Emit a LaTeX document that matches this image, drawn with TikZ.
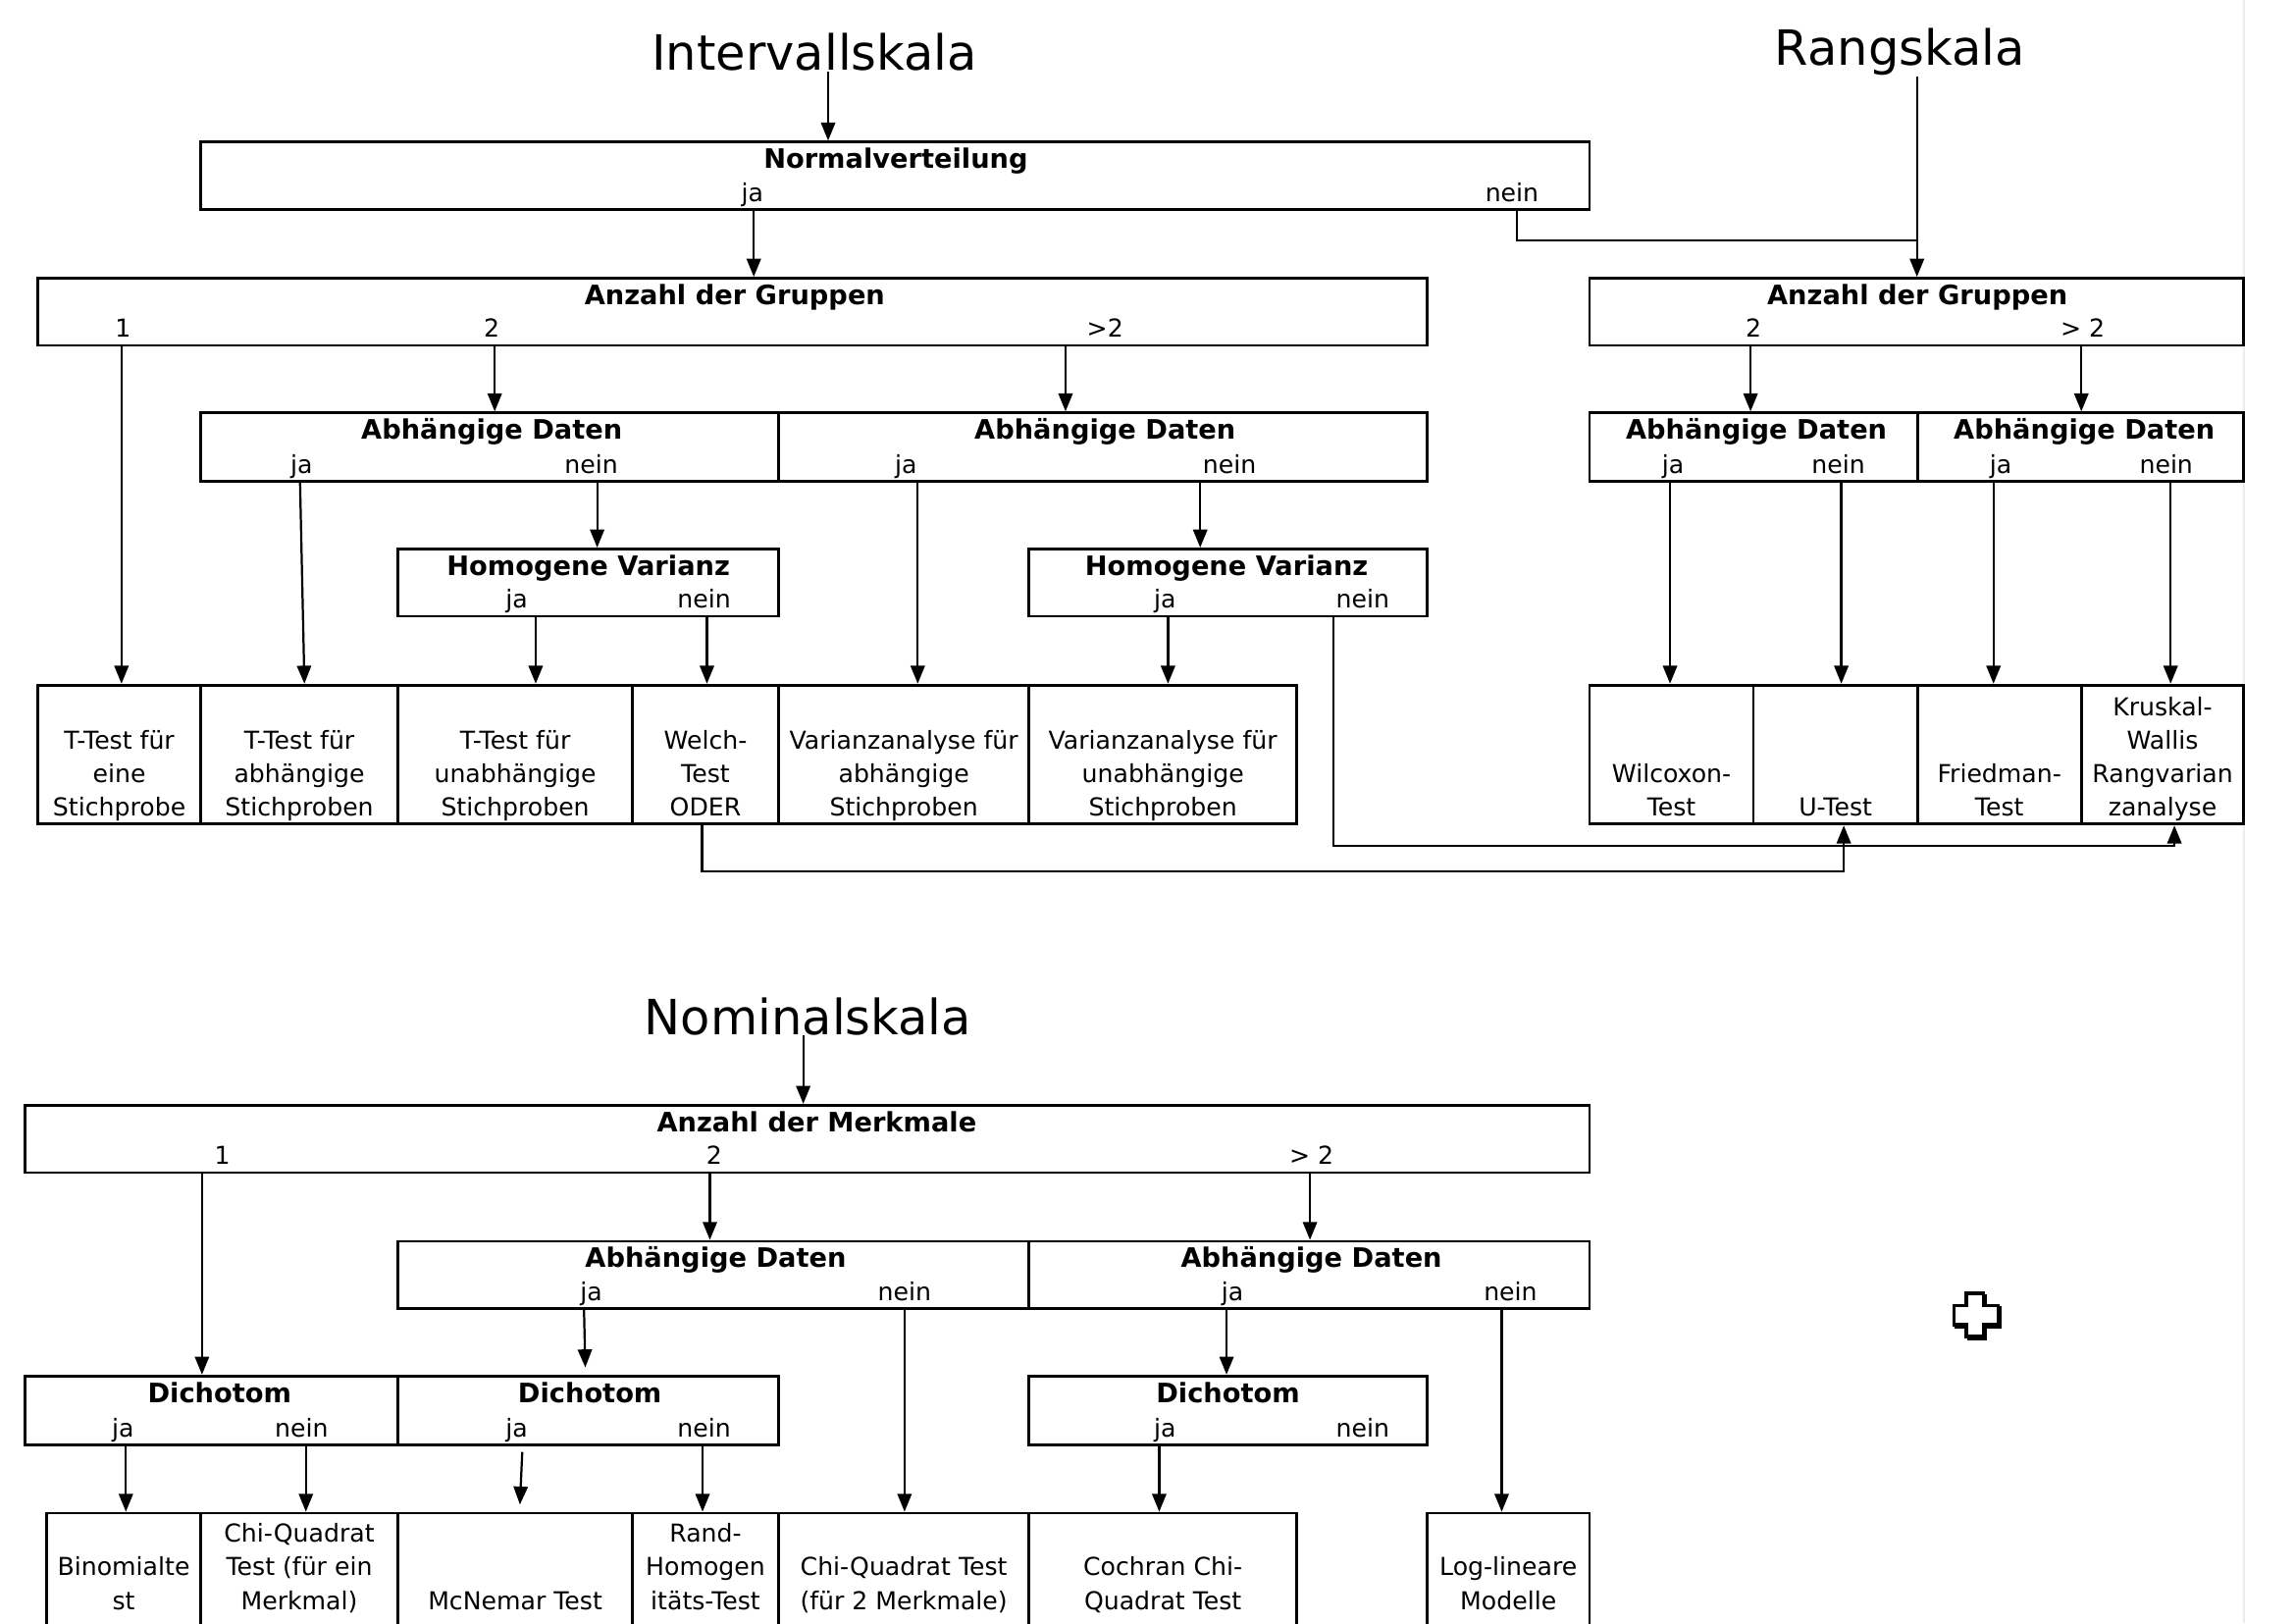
\documentclass[tikz,border=0pt]{standalone}
\usepackage{fontspec}
\setmainfont{DejaVu Sans}
\usetikzlibrary{arrows.meta,fit}
\newcommand{\stk}[1]{\begin{tabular}[b]{@{}c@{}}#1\end{tabular}}
\begin{document}
\begin{tikzpicture}[x=0.02cm,y=-0.02cm,
  box/.style={draw, line width=1.05pt, inner sep=0pt},
  ttl/.style={font=\fontsize{10.4}{12.5}\selectfont\bfseries, anchor=base, inner sep=0pt},
  lbl/.style={font=\fontsize{9.6}{13.04}\selectfont, anchor=base, inner sep=0pt},
  res/.style={font=\fontsize{9.6}{13.04}\selectfont, anchor=base, inner sep=0pt},
  head/.style={font=\fontsize{18.9}{22}\selectfont, anchor=base, inner sep=0pt},
  arr/.style={line width=0.85pt, -{Triangle[width=5.5pt,length=7pt]}},
  conn/.style={line width=0.85pt}]
\useasboundingbox (0,0) rectangle (1568,1109);
\clip (0,0) rectangle (1568,1109);
\fill[white] (0,0) rectangle (1568,1109);
\draw[gray!15, line width=1pt] (1533,0) -- (1533,1109);

% ---------- headings ----------
\node[head] (iv) at (556.5,48) {Intervallskala};
\node[head] (rs) at (1298,44.7) {Rangskala};
\node[head] (ns) at (552,706.6) {Nominalskala};

% ---------- top section boxes ----------
\node[box, fit={(137,97) (1086,143)}] (nv) {};
\node[ttl] (nvT) at (612,115) {Normalverteilung};
\node[lbl] (nvJa) at (514,137.5) {ja};
\node[lbl] (nvNein) at (1033,137.5) {nein};

\node[box, fit={(26,190) (975,236)}] (agL) {};
\node[ttl] (agLT) at (502,208) {Anzahl der Gruppen};
\node[lbl] (agL1) at (84,230.5) {1};
\node[lbl] (agL2) at (336,230.5) {2};
\node[lbl] (agL3) at (755,230.5) {>2};

\node[box, fit={(1086,190) (1533,236)}] (agR) {};
\node[ttl] (agRT) at (1310,208) {Anzahl der Gruppen};
\node[lbl] (agR2) at (1198,230.5) {2};
\node[lbl] (agR3) at (1423,230.5) {> 2};

\node[box, fit={(137,282) (532,329)}] (adA) {};
\node[ttl] (adAT) at (336,300) {Abhängige Daten};
\node[lbl] (adAJ) at (206,323.5) {ja};
\node[lbl] (adAN) at (404,323.5) {nein};
\node[box, fit={(532,282) (975,329)}] (adB) {};
\node[ttl] (adBT) at (755,300) {Abhängige Daten};
\node[lbl] (adBJ) at (619,323.5) {ja};
\node[lbl] (adBN) at (840,323.5) {nein};
\node[box, fit={(1086,282) (1310,329)}] (adC) {};
\node[ttl] (adCT) at (1200,300) {Abhängige Daten};
\node[lbl] (adCJ) at (1143,323.5) {ja};
\node[lbl] (adCN) at (1256,323.5) {nein};
\node[box, fit={(1310,282) (1533,329)}] (adD) {};
\node[ttl] (adDT) at (1424,300) {Abhängige Daten};
\node[lbl] (adDJ) at (1367,323.5) {ja};
\node[lbl] (adDN) at (1480,323.5) {nein};

\node[box, fit={(272,375) (532,421)}] (hvA) {};
\node[ttl] (hvAT) at (402,393) {Homogene Varianz};
\node[lbl] (hvAJ) at (353,415.5) {ja};
\node[lbl] (hvAN) at (481,415.5) {nein};
\node[box, fit={(703,375) (975,421)}] (hvB) {};
\node[ttl] (hvBT) at (838,393) {Homogene Varianz};
\node[lbl] (hvBJ) at (796,415.5) {ja};
\node[lbl] (hvBN) at (931,415.5) {nein};

% result boxes (top)
\node[box, fit={(26,468) (137,563)}] (r1) {};
\node[box, fit={(137,468) (272,563)}] (r2) {};
\node[box, fit={(272,468) (432,563)}] (r3) {};
\node[box, fit={(432,468) (532,563)}] (r4) {};
\node[box, fit={(532,468) (703,563)}] (r5) {};
\node[box, fit={(703,468) (886,563)}] (r6) {};
\node[box, fit={(1086,468) (1198,563)}] (s1) {};
\node[box, fit={(1198,468) (1310,563)}] (s2) {};
\node[box, fit={(1310,468) (1422,563)}] (s3) {};
\node[box, fit={(1422,468) (1533,563)}] (s4) {};
\node[res] (r1t) at (81.5,557.5) {\stk{T-Test für\\eine\\Stichprobe}};
\node[res] (r2t) at (204.5,557.5) {\stk{T-Test für\\abhängige\\Stichproben}};
\node[res] (r3t) at (352,557.5) {\stk{T-Test für\\unabhängige\\Stichproben}};
\node[res] (r4t) at (482,557.5) {\stk{Welch-\\Test\\ODER}};
\node[res] (r5t) at (617.5,557.5) {\stk{Varianzanalyse für\\abhängige\\Stichproben}};
\node[res] (r6t) at (794.5,557.5) {\stk{Varianzanalyse für\\unabhängige\\Stichproben}};
\node[res] (s1t) at (1142,557.5) {\stk{Wilcoxon-\\Test}};
\node[res] (s2t) at (1254,557.5) {U-Test};
\node[res] (s3t) at (1366,557.5) {\stk{Friedman-\\Test}};
\node[res] (s4t) at (1477.5,557.5) {\stk{Kruskal-\\Wallis\\Rangvarian\\zanalyse}};

% ---------- top section connectors ----------
\draw[arr] (565.8,0 |- iv.south) -- (565.8,0 |- nv.north);
\coordinate (j1) at (1309.7,164.2);
\draw[arr] (1309.7,0 |- rs.south) -- (1309.7,0 |- agR.north);
\draw[conn] (1036.3,0 |- nv.south) |- (j1);
\draw[arr] (515,0 |- nv.south) -- (515,0 |- agL.north);
\draw[arr] (83,0 |- agL.south) -- (83,0 |- r1.north);
\draw[arr] (338,0 |- agL.south) -- (338,0 |- adA.north);
\draw[arr] (728,0 |- agL.south) -- (728,0 |- adB.north);
\draw[arr] (1196,0 |- agR.south) -- (1196,0 |- adC.north);
\draw[arr] (1422,0 |- agR.south) -- (1422,0 |- adD.north);
\draw[arr] (205,0 |- adA.south) -- (208,0 |- r2.north);
\draw[arr] (408,0 |- adA.south) -- (408,0 |- hvA.north);
\draw[arr] (627,0 |- adB.south) -- (627,0 |- r5.north);
\draw[arr] (820,0 |- adB.south) -- (820,0 |- hvB.north);
\draw[arr] (1141,0 |- adC.south) -- (1141,0 |- s1.north);
\draw[arr] (1258,0 |- adC.south) -- (1258,0 |- s2.north);
\draw[arr] (1362,0 |- adD.south) -- (1362,0 |- s3.north);
\draw[arr] (1483,0 |- adD.south) -- (1483,0 |- s4.north);
\draw[arr] (366,0 |- hvA.south) -- (366,0 |- r3.north);
\draw[arr] (483,0 |- hvA.south) -- (483,0 |- r4.north);
\draw[arr] (798,0 |- hvB.south) -- (798,0 |- r6.north);
\draw[arr] (911,0 |- hvB.south) |- (1485.6,577.6) -- (1485.6,0 |- s4.south);
\draw[arr] (479.6,0 |- r4.south) |- (1259.7,595.3) -- (1259.7,0 |- s2.south);

% ---------- bottom section boxes ----------
\node[box, fit={(17,755) (1086,801)}] (am) {};
\node[ttl] (amT) at (558,773) {Anzahl der Merkmale};
\node[lbl] (am1) at (152,795.5) {1};
\node[lbl] (am2) at (488,795.5) {2};
\node[lbl] (am3) at (896,795.5) {> 2};

\node[box, fit={(272,848) (703,894)}] (abA) {};
\node[ttl] (abAT) at (489,866) {Abhängige Daten};
\node[lbl] (abAJ) at (404,888.5) {ja};
\node[lbl] (abAN) at (618,888.5) {nein};
\node[box, fit={(703,848) (1086,894)}] (abB) {};
\node[ttl] (abBT) at (896,866) {Abhängige Daten};
\node[lbl] (abBJ) at (842,888.5) {ja};
\node[lbl] (abBN) at (1032,888.5) {nein};

\node[box, fit={(17,940) (272,987)}] (diA) {};
\node[ttl] (diAT) at (150,958) {Dichotom};
\node[lbl] (diAJ) at (84,982) {ja};
\node[lbl] (diAN) at (206,982) {nein};
\node[box, fit={(272,940) (532,987)}] (diB) {};
\node[ttl] (diBT) at (403,958) {Dichotom};
\node[lbl] (diBJ) at (353,982) {ja};
\node[lbl] (diBN) at (481,982) {nein};
\node[box, fit={(703,940) (975,987)}] (diC) {};
\node[ttl] (diCT) at (839,958) {Dichotom};
\node[lbl] (diCJ) at (796,982) {ja};
\node[lbl] (diCN) at (931,982) {nein};

\node[box, fit={(32,1033.7) (137,1135)}] (b1) {};
\node[box, fit={(137,1033.7) (272,1135)}] (b2) {};
\node[box, fit={(272,1033.7) (432,1135)}] (b3) {};
\node[box, fit={(432,1033.7) (532,1135)}] (b4) {};
\node[box, fit={(532,1033.7) (703,1135)}] (b5) {};
\node[box, fit={(703,1033.7) (886,1135)}] (b6) {};
\node[box, fit={(975,1033.7) (1086,1135)}] (b7) {};
\node[res] (b1t) at (84.5,1099.5) {\stk{Binomialte\\st}};
\node[res] (b2t) at (204.5,1099.5) {\stk{Chi-Quadrat\\Test (für ein\\Merkmal)}};
\node[res] (b3t) at (352,1099.5) {McNemar Test};
\node[res] (b4t) at (482,1099.5) {\stk{Rand-\\Homogen\\itäts-Test}};
\node[res] (b5t) at (617.5,1099.5) {\stk{Chi-Quadrat Test\\(für 2 Merkmale)}};
\node[res] (b6t) at (794.5,1099.5) {\stk{Cochran Chi-\\Quadrat Test}};
\node[res] (b7t) at (1030.5,1099.5) {\stk{Log-lineare\\Modelle}};

% ---------- bottom section connectors ----------
\draw[arr] (548.8,0 |- ns.south) -- (548.8,0 |- am.north);
\draw[arr] (138,0 |- am.south) -- (138,0 |- diA.north);
\draw[arr] (485,0 |- am.south) -- (485,0 |- abA.north);
\draw[arr] (895,0 |- am.south) -- (895,0 |- abB.north);
\draw[arr, shorten >=2.8pt] (399,0 |- abA.south) -- (400,0 |- diB.north);
\draw[arr] (618,0 |- abA.south) -- (618,0 |- b5.north);
\draw[arr] (838,0 |- abB.south) -- (838,0 |- diC.north);
\draw[arr] (1026,0 |- abB.south) -- (1026,0 |- b7.north);
\draw[arr] (86,0 |- diA.south) -- (86,0 |- b1.north);
\draw[arr] (209,0 |- diA.south) -- (209,0 |- b2.north);
\draw[arr, shorten <=2.3pt, shorten >=2.8pt] (357,0 |- diB.south) -- (355,0 |- b3.north);
\draw[arr] (480,0 |- diB.south) -- (480,0 |- b4.north);
\draw[arr] (792,0 |- diC.south) -- (792,0 |- b6.north);

% ---------- cross mark ----------
\draw[line width=1.3pt, shift={(1.6,1.6)}] (1343.5,883.5) -- (1355,883.5) -- (1355,892) -- (1365,892) -- (1365,905) -- (1355,905) -- (1355,913) -- (1343.5,913) -- (1343.5,905) -- (1335,905) -- (1335,892) -- (1343.5,892) -- cycle;
\draw[line width=1.3pt, fill=white] (1343.5,883.5) -- (1355,883.5) -- (1355,892) -- (1365,892) -- (1365,905) -- (1355,905) -- (1355,913) -- (1343.5,913) -- (1343.5,905) -- (1335,905) -- (1335,892) -- (1343.5,892) -- cycle;
\end{tikzpicture}
\end{document}
